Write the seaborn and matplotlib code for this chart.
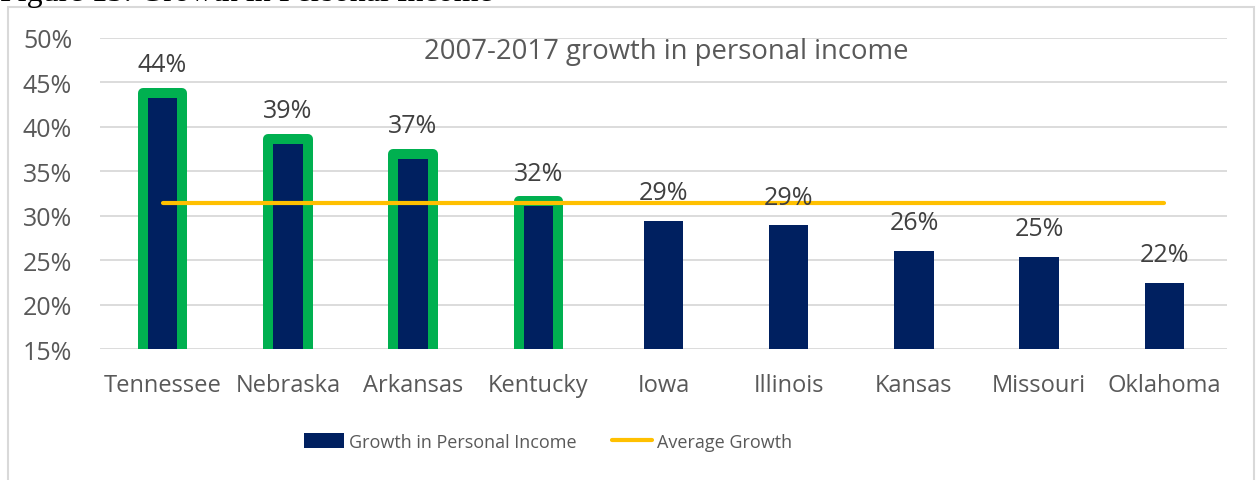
import matplotlib
matplotlib.use("Agg")
import matplotlib.pyplot as plt
import seaborn as sns
import pandas as pd
from matplotlib.patches import Rectangle
from matplotlib.lines import Line2D
from matplotlib.patches import Patch

states = ["Tennessee", "Nebraska", "Arkansas", "Kentucky", "Iowa", "Illinois", "Kansas", "Missouri", "Oklahoma"]
growth = [43.8, 38.6, 37.0, 31.6, 29.4, 28.9, 26.0, 25.4, 22.4]
average_growth = 31.4
highlighted = ["Tennessee", "Nebraska", "Arkansas", "Kentucky"]
y_ticks = [15, 20, 25, 30, 35, 40, 45, 50]

NAVY = "#002060"
GREEN = "#00B050"
GOLD = "#FFC000"
GRID = "#D9D9D9"
TXT = "#595959"

sns.set_theme(style="white")
plt.rcParams["font.family"] = ["Open Sans", "DejaVu Sans"]

fig = plt.figure(figsize=(12.59, 4.81), dpi=100)
ax = fig.add_axes([100/1259, 1-350/481, 1127/1259, 311/481])

df = pd.DataFrame({"state": states, "growth": growth})
sns.barplot(data=df, x="state", y="growth", color=NAVY, saturation=1, width=0.315, ax=ax, zorder=2)

for p, s in zip(ax.patches, states):
    if s in highlighted:
        p.set_edgecolor(GREEN)
        p.set_linewidth(7.2)
        p.set_joinstyle("round")
    else:
        p.set_edgecolor("none")

x = list(range(len(states)))
ax.plot([x[0], x[-1]], [average_growth, average_growth], color=GOLD, lw=3.0,
        solid_capstyle="round", zorder=4)

for i, v in enumerate(growth):
    ax.annotate(f"{v:.0f}%", (i, v), xytext=(0, 20.5), textcoords="offset points",
                ha="center", va="center", fontsize=18, color="#404040", zorder=5)

ax.set_ylim(15, 50)
ax.set_xlim(-0.5, len(states) - 0.5)
ax.set_yticks(y_ticks)
ax.set_yticklabels([f"{t}%" for t in y_ticks])
ax.yaxis.grid(True, color=GRID, lw=1.3, zorder=0)
ax.set_axisbelow(True)
for sp in ax.spines.values():
    sp.set_visible(False)
ax.tick_params(axis="both", length=0, labelcolor=TXT)
ax.tick_params(axis="x", pad=17.5, labelsize=17)
ax.tick_params(axis="y", pad=20, labelsize=18)
ax.set_xlabel("")
ax.set_ylabel("")

fig.text(666/1259, 1-52/481, "2007-2017 growth in personal income", ha="center", va="center",
         fontsize=19.8, color=TXT)

handles = [Patch(facecolor=NAVY, edgecolor="none"),
           Line2D([0], [0], color=GOLD, lw=3.0, solid_capstyle="round")]
fig.legend(handles, ["Growth in Personal Income", "Average Growth"], loc="center",
           bbox_to_anchor=(548/1259, 1-443/481), ncol=2, frameon=False, fontsize=13,
           labelcolor=TXT, handlelength=2.2, handleheight=0.9, handletextpad=0.25,
           columnspacing=2.0)

fig.patches.append(Rectangle((8/1259, -0.05), 1246/1259, 1.05 - 8/481, transform=fig.transFigure,
                             fill=False, edgecolor=GRID, lw=1.5))

fig.text(0.0, 1 - 1.5/481, "Figure 15: Growth in Personal Income", ha="left", va="baseline",
         fontsize=23, color="black", family=["Liberation Serif", "DejaVu Serif"])

fig.savefig("out.png", dpi=100)
